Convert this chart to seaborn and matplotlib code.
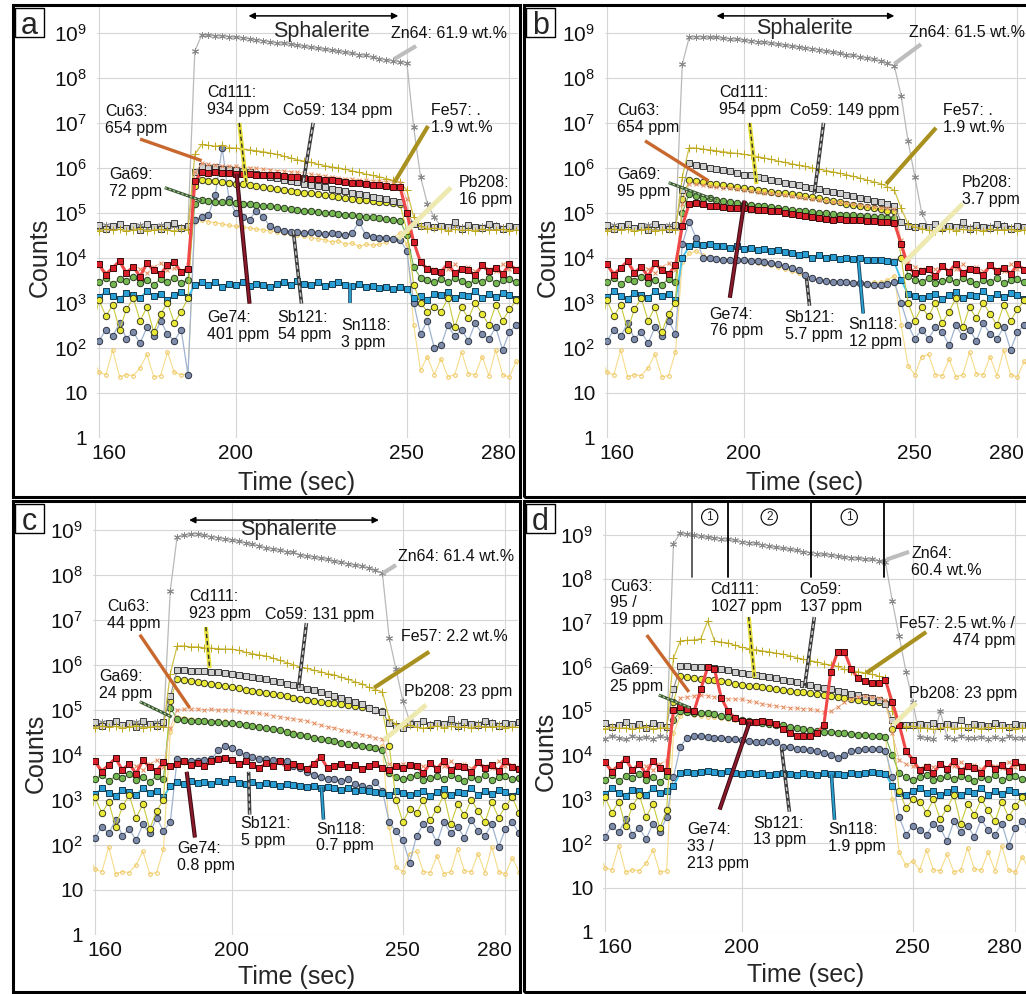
import numpy as np
import seaborn as sns
import matplotlib.pyplot as plt
from matplotlib.patches import Rectangle
from matplotlib.ticker import NullLocator
from matplotlib.transforms import ScaledTranslation

# time axis: one reading every 2 s (158 ... 284 s)
t = np.arange(158, 286, 2)

# ---- background (gas blank) levels, log10(counts) ----
zn_bg = [4.70, 4.66, 4.72, 4.68, 4.71, 4.65, 4.70, 4.73, 4.67, 4.69, 4.72, 4.66, 4.70, 4.68, 4.71, 4.67,
         4.70, 4.72, 4.68, 4.66, 4.71, 4.69, 4.73, 4.67, 4.70, 4.68, 4.72, 4.66, 4.70, 4.69, 4.71, 4.67,
         4.68, 4.72, 4.70, 4.66, 4.69, 4.71, 4.68, 4.73, 4.67, 4.70, 4.72, 4.68, 4.66, 4.71, 4.69, 4.70,
         4.67, 4.72, 4.68, 4.70, 4.66, 4.71, 4.69, 4.73, 4.68, 4.70, 4.67, 4.72, 4.69, 4.70, 4.68, 4.71]
zn_bg_d = [4.42, 4.38, 4.45, 4.40, 4.36, 4.43, 4.39, 4.41, 4.37, 4.44, 4.40, 4.38, 4.42, 4.36, 4.41, 4.39,
           4.43, 4.40, 4.37, 4.42, 4.38, 4.41, 4.44, 4.39, 4.36, 4.42, 4.40, 4.38, 4.43, 4.41, 4.37, 4.40,
           4.42, 4.39, 4.36, 4.41, 4.43, 4.38, 4.40, 4.42, 4.37, 4.41, 4.39, 4.44, 4.38, 4.40, 4.36, 4.42,
           4.40, 4.38, 5.00, 4.41, 4.37, 4.43, 4.39, 4.40, 4.42, 4.38, 4.41, 4.37, 4.43, 4.40, 4.39, 4.42]
fe_bg = [4.62, 4.60, 4.64, 4.61, 4.63, 4.59, 4.62, 4.65, 4.60, 4.62, 4.63, 4.61, 4.60, 4.64, 4.62, 4.59,
         4.63, 4.61, 4.60, 4.64, 4.62, 4.60, 4.63, 4.61, 4.59, 4.62, 4.64, 4.60, 4.62, 4.61, 4.63, 4.60,
         4.61, 4.63, 4.60, 4.62, 4.64, 4.61, 4.59, 4.62, 4.63, 4.60, 4.62, 4.61, 4.64, 4.60, 4.62, 4.63,
         4.61, 4.59, 4.62, 4.64, 4.60, 4.63, 4.61, 4.62, 4.60, 4.64, 4.61, 4.62, 4.63, 4.60, 4.62, 4.61]
cu_bg = [3.72, 3.85, 3.68, 3.78, 3.90, 3.70, 3.82, 3.75, 3.66, 3.80, 3.88, 3.72, 3.77, 3.69, 3.83, 3.74,
         3.79, 3.71, 3.86, 3.68, 3.76, 3.82, 3.70, 3.78, 3.73, 3.87, 3.69, 3.80, 3.75, 3.71, 3.84, 3.77,
         3.70, 3.81, 3.74, 3.68, 3.79, 3.86, 3.72, 3.77, 3.70, 3.83, 3.75, 3.69, 3.80, 3.73, 3.88, 3.71,
         3.78, 3.74, 3.82, 3.69, 3.76, 3.85, 3.72, 3.79, 3.70, 3.83, 3.75, 3.71, 3.86, 3.74, 3.78, 3.72]
co_bg = [4.68, 4.73, 4.64, 4.70, 4.75, 4.66, 4.71, 4.62, 4.74, 4.69, 4.65, 4.72, 4.78, 4.67, 4.70, 4.63,
         4.71, 4.66, 4.74, 4.69, 4.64, 4.72, 4.68, 4.76, 4.65, 4.70, 4.73, 4.67, 4.62, 4.71, 4.69, 4.75,
         4.66, 4.72, 4.68, 4.64, 4.74, 4.70, 4.67, 4.73, 4.65, 4.71, 4.68, 4.77, 4.66, 4.70, 4.63, 4.72,
         4.69, 4.74, 4.66, 4.71, 4.68, 4.80, 4.65, 4.72, 4.69, 4.67, 4.74, 4.70, 4.64, 4.71, 4.68, 4.73]
cd_bg = [2.45, 3.05, 2.70, 2.95, 2.40, 2.85, 3.10, 2.60, 2.90, 2.35, 2.75, 3.00, 2.55, 2.80, 3.10, 2.50,
         2.95, 2.65, 2.40, 3.05, 2.75, 2.55, 2.90, 3.15, 2.60, 2.85, 2.45, 2.95, 2.70, 3.05, 2.50, 2.80,
         2.65, 3.00, 2.40, 2.85, 2.95, 2.55, 3.10, 2.70, 2.45, 2.90, 2.75, 3.05, 2.60, 2.85, 2.50, 2.95,
         2.70, 3.00, 2.55, 2.80, 3.10, 2.45, 2.90, 2.65, 3.00, 2.75, 2.50, 2.95, 2.60, 2.85, 3.05, 2.70]
ga_bg = [3.50, 3.45, 3.55, 3.42, 3.52, 3.48, 3.58, 3.44, 3.50, 3.40, 3.53, 3.47, 3.56, 3.43, 3.51, 3.46,
         3.54, 3.49, 3.41, 3.52, 3.47, 3.57, 3.44, 3.50, 3.46, 3.53, 3.42, 3.49, 3.55, 3.45, 3.51, 3.48,
         3.43, 3.54, 3.47, 3.50, 3.58, 3.44, 3.52, 3.46, 3.49, 3.55, 3.41, 3.51, 3.47, 3.53, 3.45, 3.50,
         3.56, 3.43, 3.49, 3.52, 3.46, 3.54, 3.48, 3.42, 3.51, 3.47, 3.55, 3.44, 3.50, 3.53, 3.46, 3.49]
ge_bg = [3.70, 3.85, 3.62, 3.78, 3.92, 3.66, 3.80, 3.58, 3.88, 3.72, 3.64, 3.83, 3.90, 3.68, 3.76, 3.60,
         3.86, 3.71, 3.65, 3.82, 3.74, 3.58, 3.79, 3.88, 3.67, 3.75, 3.62, 3.84, 3.70, 3.91, 3.66, 3.78,
         3.60, 3.73, 3.86, 3.64, 3.79, 3.70, 3.57, 3.82, 3.68, 3.75, 3.89, 3.63, 3.77, 3.71, 3.84, 3.66,
         3.74, 3.59, 3.81, 3.69, 3.87, 3.65, 3.76, 3.72, 3.61, 3.83, 3.70, 3.78, 3.64, 3.85, 3.73, 3.68]
sb_bg = [2.30, 2.15, 2.40, 2.25, 2.55, 2.20, 2.35, 2.10, 2.45, 2.25, 2.60, 2.30, 2.15, 2.40, 1.40, 2.50,
         2.20, 2.45, 2.05, 2.35, 2.60, 2.25, 2.40, 2.15, 2.50, 2.30, 2.10, 2.45, 2.20, 2.55, 2.35, 2.05,
         2.40, 2.25, 2.50, 2.15, 2.35, 2.60, 2.20, 2.45, 2.30, 1.90, 2.50, 2.25, 2.40, 2.10, 2.55, 2.30,
         2.20, 2.45, 2.35, 2.05, 2.50, 2.25, 2.40, 2.15, 2.55, 2.30, 2.20, 2.45, 1.95, 2.35, 2.50, 2.25]
sn_bg = [3.20, 3.12, 3.25, 3.15, 3.08, 3.22, 3.18, 3.10, 3.26, 3.14, 3.20, 3.06, 3.17, 3.23, 3.12, 3.19,
         3.15, 3.24, 3.09, 3.18, 3.13, 3.21, 3.07, 3.16, 3.25, 3.11, 3.19, 3.14, 3.22, 3.08, 3.17, 3.20,
         3.12, 3.26, 3.15, 3.09, 3.21, 3.16, 3.13, 3.24, 3.10, 3.18, 3.22, 3.07, 3.15, 3.19, 3.12, 3.25,
         3.14, 3.20, 3.09, 3.17, 3.23, 3.11, 3.18, 3.15, 3.26, 3.10, 3.19, 3.13, 3.21, 3.16, 3.08, 3.20]
pb_bg = [1.80, 1.45, 1.40, 1.95, 1.35, 1.40, 1.38, 1.55, 1.85, 1.35, 1.38, 1.90, 1.45, 1.40, 1.42, 1.95,
         1.55, 1.35, 1.80, 1.42, 1.40, 1.38, 1.90, 1.45, 1.40, 1.35, 1.85, 1.55, 1.40, 1.42, 1.38, 1.95,
         1.40, 1.38, 1.85, 1.35, 1.40, 1.45, 1.90, 1.42, 1.40, 1.80, 1.38, 1.35, 1.40, 1.95, 1.45, 1.40,
         1.85, 1.40, 1.38, 1.75, 1.35, 1.40, 1.90, 1.42, 1.40, 1.80, 1.38, 1.95, 1.40, 1.35, 1.70, 1.40]

# ---- sphalerite signal, log10(counts), 2 s steps from the first ablation reading ----
# panel a: 188 ... 258 s
zn_a = [8.6, 8.95, 8.95, 8.94, 8.93, 8.92, 8.9, 8.89, 8.87, 8.85, 8.83, 8.8, 8.78, 8.77, 8.75, 8.73, 8.7, 8.68,
        8.66, 8.64, 8.62, 8.6, 8.57, 8.55, 8.52, 8.5, 8.46, 8.43, 8.4, 8.38, 8.36, 8.34, 6.9, 5.8, 5.2, 4.9]
fe_a = [6.3, 6.52, 6.5, 6.48, 6.5, 6.45, 6.44, 6.42, 6.4, 6.38, 6.36, 6.33, 6.3, 6.26, 6.22, 6.18, 6.15, 6.12,
        6.08, 6.05, 6.02, 6.0, 5.97, 5.93, 5.9, 5.86, 5.83, 5.8, 5.76, 5.72, 5.68, 5.5, 4.9, 4.7, 4.65, 4.66]
cu_a = [5.9, 6.1, 6.08, 6.06, 6.05, 6.04, 6.03, 6.01, 6.0, 5.99, 5.97, 5.96, 5.94, 5.93, 5.91, 5.9, 5.88, 5.86,
        5.84, 5.82, 5.8, 5.78, 5.76, 5.75, 5.73, 5.72, 5.71, 5.7, 5.69, 5.68, 5.67, 5.3, 4.3, 3.9, 3.8, 3.75]
co_a = [5.9, 6.05, 6.0, 6.02, 5.98, 5.97, 5.95, 5.92, 5.9, 5.87, 5.83, 5.8, 5.78, 5.74, 5.7, 5.68, 5.65, 5.62,
        5.6, 5.57, 5.53, 5.5, 5.48, 5.45, 5.42, 5.4, 5.36, 5.33, 5.3, 5.27, 5.25, 5.0, 4.75, 4.7, 4.72, 4.68]
cd_a = [5.6, 5.72, 5.71, 5.7, 5.68, 5.67, 5.65, 5.63, 5.61, 5.59, 5.57, 5.55, 5.53, 5.51, 5.49, 5.47, 5.45, 5.43,
        5.41, 5.39, 5.37, 5.35, 5.33, 5.31, 5.29, 5.28, 5.27, 5.25, 5.23, 5.22, 5.2, 4.6, 3.4, 3.0, 2.8, 2.9]
ga_a = [5.2, 5.28, 5.27, 5.25, 5.24, 5.23, 5.22, 5.2, 5.19, 5.17, 5.16, 5.15, 5.13, 5.11, 5.09, 5.07, 5.05, 5.04,
        5.02, 5.0, 4.99, 4.97, 4.96, 4.94, 4.93, 4.91, 4.9, 4.88, 4.86, 4.84, 4.82, 4.5, 3.8, 3.55, 3.5, 3.45]
ge_a = [5.7, 5.9, 5.89, 5.9, 5.88, 5.88, 5.87, 5.87, 5.86, 5.85, 5.85, 5.84, 5.83, 5.81, 5.8, 5.79, 5.78, 5.76,
        5.75, 5.73, 5.72, 5.7, 5.69, 5.67, 5.66, 5.64, 5.62, 5.61, 5.59, 5.58, 5.57, 5.0, 4.35, 3.9, 3.75, 3.7]
sb_a = [4.85, 4.9, 4.95, 5.4, 6.45, 5.3, 5.0, 4.9, 4.85, 5.05, 4.9, 4.7, 4.65, 4.6, 4.58, 4.57, 4.55, 4.57,
        4.55, 4.52, 4.55, 4.53, 4.5, 4.55, 4.8, 4.5, 4.47, 4.45, 4.45, 4.42, 4.4, 4.15, 3.0, 2.3, 2.6, 2.0]
sn_a = [3.4, 3.45, 3.4, 3.45, 3.35, 3.42, 3.4, 3.45, 3.38, 3.42, 3.4, 3.35, 3.42, 3.45, 3.4, 3.48, 3.42, 3.4,
        3.45, 3.38, 3.42, 3.45, 3.4, 3.38, 3.42, 3.35, 3.38, 3.32, 3.35, 3.3, 3.35, 3.3, 3.1, 3.15, 3.05, 3.2]
pb_a = [4.8, 4.85, 4.8, 4.78, 4.75, 4.72, 4.7, 4.68, 4.66, 4.64, 4.62, 4.6, 4.57, 4.55, 4.52, 4.5, 4.48, 4.45,
        4.42, 4.4, 4.35, 4.38, 4.3, 4.33, 4.25, 4.3, 4.28, 4.3, 4.35, 4.45, 4.55, 4.3, 2.5, 1.5, 1.8, 1.4]

# panel b: 182 ... 252 s
zn_b = [8.3, 8.9, 8.92, 8.91, 8.9, 8.9, 8.88, 8.87, 8.86, 8.84, 8.83, 8.81, 8.79, 8.77, 8.75, 8.73, 8.71, 8.69,
        8.67, 8.65, 8.63, 8.6, 8.58, 8.55, 8.52, 8.5, 8.47, 8.44, 8.41, 8.38, 8.33, 8.27, 7.6, 6.6, 5.8, 5.0]
fe_b = [5.8, 6.45, 6.44, 6.42, 6.4, 6.38, 6.36, 6.34, 6.32, 6.3, 6.28, 6.25, 6.22, 6.19, 6.15, 6.12, 6.09, 6.06,
        6.03, 6.0, 5.97, 5.94, 5.91, 5.88, 5.85, 5.81, 5.77, 5.73, 5.69, 5.65, 5.58, 5.5, 5.1, 4.75, 4.68, 4.65]
cu_b = [5.2, 5.65, 5.63, 5.61, 5.6, 5.58, 5.56, 5.55, 5.53, 5.51, 5.49, 5.47, 5.45, 5.43, 5.41, 5.39, 5.37, 5.35,
        5.33, 5.31, 5.29, 5.27, 5.25, 5.23, 5.21, 5.19, 5.17, 5.15, 5.13, 5.11, 5.1, 5.08, 4.4, 3.9, 3.8, 3.75]
co_b = [5.5, 6.1, 6.07, 6.03, 6.0, 5.97, 5.95, 5.92, 5.88, 5.85, 5.83, 5.8, 5.77, 5.73, 5.7, 5.67, 5.64, 5.61,
        5.58, 5.55, 5.52, 5.49, 5.46, 5.43, 5.4, 5.37, 5.33, 5.3, 5.27, 5.24, 5.2, 5.15, 4.8, 4.7, 4.68, 4.7]
cd_b = [5.3, 5.72, 5.7, 5.68, 5.65, 5.63, 5.61, 5.59, 5.57, 5.55, 5.53, 5.51, 5.49, 5.47, 5.45, 5.43, 5.41, 5.39,
        5.37, 5.35, 5.32, 5.29, 5.26, 5.23, 5.2, 5.18, 5.15, 5.13, 5.1, 5.08, 5.05, 5.03, 4.0, 3.0, 2.6, 2.9]
ga_b = [5.0, 5.42, 5.38, 5.34, 5.32, 5.29, 5.27, 5.24, 5.22, 5.2, 5.18, 5.16, 5.14, 5.12, 5.1, 5.08, 5.06, 5.04,
        5.03, 5.02, 5.0, 4.99, 4.97, 4.96, 4.95, 4.94, 4.93, 4.92, 4.91, 4.9, 4.89, 4.88, 4.3, 3.6, 3.5, 3.45]
ge_b = [4.7, 5.2, 5.22, 5.2, 5.15, 5.14, 5.12, 5.1, 5.11, 5.1, 5.08, 5.07, 5.06, 5.05, 5.05, 5.0, 4.98, 4.95,
        4.92, 4.9, 4.88, 4.87, 4.85, 4.87, 4.85, 4.83, 4.84, 4.82, 4.81, 4.8, 4.79, 4.78, 4.3, 3.8, 3.65, 3.7]
sb_b = [4.3, 4.8, 4.45, 4.0, 4.0, 3.98, 3.96, 3.95, 3.96, 3.95, 3.93, 3.92, 3.9, 3.88, 3.85, 3.82, 3.78, 3.72,
        3.62, 3.55, 3.5, 3.48, 3.45, 3.47, 3.45, 3.43, 3.44, 3.42, 3.4, 3.4, 3.42, 3.45, 3.0, 2.5, 2.2, 2.4]
sn_b = [4.0, 4.25, 4.3, 4.28, 4.3, 4.25, 4.27, 4.22, 4.25, 4.2, 4.22, 4.18, 4.2, 4.15, 4.17, 4.12, 4.1, 4.05,
        4.08, 4.0, 4.05, 4.0, 4.02, 3.98, 4.0, 3.97, 3.99, 3.95, 3.96, 3.95, 3.92, 3.9, 3.5, 3.2, 3.15, 3.1]
pb_b = [3.9, 4.1, 4.15, 4.05, 4.0, 3.98, 3.97, 3.95, 3.95, 3.93, 3.9, 3.88, 3.85, 3.83, 3.8, 3.75, 3.7, 3.65,
        3.6, 3.55, 3.52, 3.5, 3.48, 3.47, 3.46, 3.45, 3.45, 3.44, 3.45, 3.45, 3.5, 3.6, 2.5, 1.6, 1.4, 1.8]

# panel c: 182 ... 252 s
zn_c = [7.65, 8.85, 8.88, 8.9, 8.92, 8.88, 8.85, 8.83, 8.8, 8.78, 8.75, 8.72, 8.68, 8.65, 8.6, 8.58, 8.55, 8.52,
        8.5, 8.45, 8.42, 8.4, 8.37, 8.35, 8.3, 8.28, 8.25, 8.22, 8.2, 8.15, 8.1, 8.05, 6.6, 5.9, 5.2, 4.75]
fe_c = [5.8, 6.42, 6.42, 6.4, 6.4, 6.38, 6.37, 6.36, 6.35, 6.35, 6.32, 6.28, 6.25, 6.22, 6.2, 6.15, 6.1, 6.05,
        6.0, 5.95, 5.92, 5.88, 5.85, 5.8, 5.78, 5.72, 5.68, 5.62, 5.58, 5.5, 5.45, 5.4, 4.8, 4.68, 4.65, 4.66]
cu_c = [4.6, 5.0, 5.01, 5.02, 5.02, 5.0, 5.01, 5.0, 5.0, 5.0, 4.98, 4.96, 4.94, 4.92, 4.9, 4.87, 4.85, 4.82,
        4.8, 4.78, 4.75, 4.7, 4.66, 4.62, 4.6, 4.56, 4.52, 4.48, 4.45, 4.42, 4.38, 4.35, 3.8, 3.75, 3.8, 3.72]
co_c = [5.3, 5.88, 5.88, 5.87, 5.87, 5.86, 5.85, 5.83, 5.82, 5.8, 5.78, 5.75, 5.72, 5.7, 5.68, 5.65, 5.62, 5.58,
        5.55, 5.5, 5.47, 5.43, 5.4, 5.36, 5.3, 5.27, 5.22, 5.18, 5.12, 5.05, 5.0, 4.95, 4.7, 4.65, 4.6, 4.68]
cd_c = [5.2, 5.68, 5.67, 5.65, 5.62, 5.6, 5.58, 5.56, 5.53, 5.5, 5.48, 5.45, 5.42, 5.4, 5.38, 5.35, 5.32, 5.3,
        5.27, 5.25, 5.22, 5.2, 5.18, 5.16, 5.15, 5.12, 5.1, 5.08, 5.06, 5.03, 5.0, 4.98, 4.2, 3.0, 2.5, 2.8]
ga_c = [5.04, 4.8, 4.78, 4.76, 4.75, 4.74, 4.73, 4.72, 4.71, 4.7, 4.68, 4.66, 4.64, 4.62, 4.6, 4.57, 4.54, 4.5,
        4.47, 4.45, 4.42, 4.38, 4.35, 4.32, 4.3, 4.27, 4.24, 4.22, 4.2, 4.18, 4.15, 4.1, 3.6, 3.5, 3.45, 3.5]
ge_c = [3.75, 3.8, 3.85, 3.78, 3.82, 3.75, 3.85, 3.9, 3.93, 3.88, 3.8, 3.85, 3.78, 3.7, 3.82, 3.75, 3.85, 3.72,
        3.8, 3.75, 3.68, 3.8, 3.95, 3.7, 3.75, 3.8, 3.72, 3.78, 3.68, 3.75, 3.8, 3.7, 3.65, 3.75, 3.7, 3.78]
sb_c = [2.5, 3.9, 3.85, 3.85, 3.85, 3.88, 3.9, 4.1, 4.2, 4.15, 4.05, 4.0, 3.95, 3.9, 3.9, 3.88, 3.85, 3.85,
        3.75, 3.7, 3.62, 3.55, 3.5, 3.45, 3.45, 3.42, 3.45, 3.35, 3.3, 3.25, 3.4, 3.2, 2.5, 2.3, 2.1, 1.6]
sn_c = [3.3, 3.4, 3.35, 3.42, 3.38, 3.4, 3.35, 3.42, 3.4, 3.45, 3.38, 3.35, 3.4, 3.33, 3.38, 3.35, 3.3, 3.35,
        3.32, 3.3, 3.28, 3.3, 3.25, 3.28, 3.25, 3.22, 3.25, 3.2, 3.22, 3.2, 3.18, 3.15, 3.1, 3.2, 3.15, 3.1]
pb_c = [4.5, 4.85, 4.82, 4.8, 4.78, 4.77, 4.76, 4.75, 4.74, 4.72, 4.7, 4.68, 4.66, 4.64, 4.62, 4.59, 4.56, 4.53,
        4.5, 4.47, 4.44, 4.4, 4.37, 4.34, 4.3, 4.28, 4.25, 4.22, 4.2, 4.18, 4.15, 4.2, 2.4, 1.5, 1.4, 1.8]

# panel d: 180 ... 250 s
zn_d = [8.8, 9.05, 9.02, 9.0, 8.98, 8.95, 8.94, 8.92, 8.9, 8.88, 8.85, 8.83, 8.81, 8.78, 8.76, 8.72, 8.7, 8.68,
        8.65, 8.62, 8.6, 8.58, 8.56, 8.55, 8.53, 8.5, 8.49, 8.47, 8.46, 8.45, 8.42, 8.38, 7.5, 6.7, 5.9, 5.2]
fe_d = [6.2, 6.6, 6.61, 6.62, 6.65, 7.05, 6.6, 6.57, 6.55, 6.5, 6.45, 6.42, 6.4, 6.37, 6.35, 6.32, 6.3, 6.26,
        6.22, 6.18, 6.15, 6.12, 6.08, 6.05, 6.02, 5.95, 5.92, 5.9, 5.87, 5.84, 5.8, 5.75, 5.0, 4.7, 4.65, 4.66]
cu_d = [4.8, 5.3, 5.33, 5.35, 5.37, 5.35, 5.33, 5.3, 5.28, 5.28, 5.27, 5.24, 5.2, 5.17, 5.14, 5.12, 5.1, 5.08,
        5.07, 5.06, 5.05, 5.02, 4.98, 5.0, 5.1, 5.2, 5.28, 5.33, 5.35, 5.32, 5.3, 5.25, 4.5, 3.9, 3.8, 3.75]
co_d = [5.5, 6.02, 6.02, 6.01, 6.0, 6.0, 5.98, 5.96, 5.93, 5.9, 5.88, 5.85, 5.82, 5.8, 5.77, 5.75, 5.72, 5.69,
        5.66, 5.63, 5.6, 5.56, 5.53, 5.5, 5.47, 5.43, 5.4, 5.37, 5.33, 5.3, 5.25, 5.17, 4.8, 4.7, 4.68, 4.7]
cd_d = [5.2, 5.8, 5.78, 5.76, 5.74, 5.72, 5.7, 5.68, 5.66, 5.63, 5.6, 5.58, 5.57, 5.55, 5.52, 5.5, 5.48, 5.46,
        5.44, 5.43, 5.42, 5.4, 5.38, 5.35, 5.32, 5.3, 5.28, 5.26, 5.24, 5.22, 5.2, 5.18, 4.6, 3.2, 2.8, 3.0]
ga_d = [4.8, 5.0, 4.99, 4.97, 4.96, 4.95, 4.93, 4.9, 4.87, 4.84, 4.8, 4.78, 4.76, 4.74, 4.72, 4.7, 4.68, 4.65,
        4.62, 4.6, 4.58, 4.56, 4.54, 4.52, 4.5, 4.5, 4.48, 4.47, 4.46, 4.45, 4.45, 4.42, 4.0, 3.6, 3.5, 3.45]
ge_d = [5.03, 5.1, 5.05, 5.0, 5.5, 6.0, 5.95, 5.3, 5.0, 4.85, 4.78, 4.76, 4.76, 4.78, 4.75, 4.72, 4.6, 4.5,
        4.45, 4.43, 4.45, 4.5, 4.7, 5.9, 6.35, 6.35, 5.95, 5.75, 5.68, 5.65, 5.65, 5.7, 5.2, 4.7, 4.1, 3.9]
sb_d = [3.5, 4.2, 4.4, 4.45, 4.43, 4.42, 4.4, 4.4, 4.38, 4.36, 4.35, 4.32, 4.3, 4.3, 4.32, 4.3, 4.2, 4.18,
        4.15, 4.14, 4.12, 4.1, 4.05, 4.0, 3.95, 4.0, 4.1, 4.12, 4.15, 4.15, 4.15, 4.1, 3.5, 2.6, 2.2, 2.4]
sn_d = [3.3, 3.6, 3.62, 3.6, 3.63, 3.65, 3.62, 3.6, 3.64, 3.6, 3.58, 3.6, 3.57, 3.6, 3.55, 3.58, 3.6, 3.57,
        3.55, 3.6, 3.58, 3.55, 3.6, 3.57, 3.58, 3.55, 3.6, 3.58, 3.6, 3.62, 3.6, 3.58, 3.3, 3.15, 3.1, 3.2]
pb_d = [4.5, 4.9, 4.95, 4.92, 4.9, 4.88, 4.86, 4.84, 4.82, 4.8, 4.78, 4.76, 4.74, 4.72, 4.7, 4.68, 4.66, 4.64,
        4.62, 4.6, 4.58, 4.56, 4.55, 4.53, 4.52, 4.5, 4.5, 4.48, 4.47, 4.45, 4.45, 4.4, 3.0, 1.8, 1.5, 1.6]

# concentration labels per panel
labels_a = {'Zn64': 'Zn64: 61.9 wt.%', 'Cu63': 'Cu63:\n654 ppm', 'Cd111': 'Cd111:\n934 ppm',
            'Co59': 'Co59: 134 ppm', 'Fe57': 'Fe57: .\n1.9 wt.%', 'Ga69': 'Ga69:\n72 ppm',
            'Pb208': 'Pb208:\n16 ppm', 'Ge74': 'Ge74:\n401 ppm', 'Sb121': 'Sb121:\n54 ppm', 'Sn118': 'Sn118:\n3 ppm'}
labels_b = {'Zn64': 'Zn64: 61.5 wt.%', 'Cu63': 'Cu63:\n654 ppm', 'Cd111': 'Cd111:\n954 ppm',
            'Co59': 'Co59: 149 ppm', 'Fe57': 'Fe57: .\n1.9 wt.%', 'Ga69': 'Ga69:\n95 ppm',
            'Pb208': 'Pb208:\n3.7 ppm', 'Ge74': 'Ge74:\n76 ppm', 'Sb121': 'Sb121:\n5.7 ppm', 'Sn118': 'Sn118:\n12 ppm'}
labels_c = {'Zn64': 'Zn64: 61.4 wt.%', 'Cu63': 'Cu63:\n44 ppm', 'Cd111': 'Cd111:\n923 ppm',
            'Co59': 'Co59: 131 ppm', 'Fe57': 'Fe57: 2.2 wt.%', 'Ga69': 'Ga69:\n24 ppm',
            'Pb208': 'Pb208: 23 ppm', 'Ge74': 'Ge74:\n0.8 ppm', 'Sb121': 'Sb121:\n5 ppm', 'Sn118': 'Sn118:\n0.7 ppm'}
labels_d = {'Zn64': 'Zn64:\n60.4 wt.%', 'Cu63': 'Cu63:\n95 /\n19 ppm', 'Cd111': 'Cd111:\n1027 ppm',
            'Co59': 'Co59:\n137 ppm', 'Fe57': 'Fe57: 2.5 wt.% /\n474 ppm', 'Ga69': 'Ga69:\n25 ppm',
            'Pb208': 'Pb208: 23 ppm', 'Ge74': 'Ge74:\n33 /\n213 ppm', 'Sb121': 'Sb121:\n13 ppm', 'Sn118': 'Sn118:\n1.9 ppm'}

# label anchor (time, log10 counts) and leader line (t0, y0, t1, y1)
lay_a = {'Zn64': ((245.4, 8.98), (252.7, 8.71, 246.3, 8.42)), 'Cu63': ((161.7, 7.07), (172.0, 6.64, 190.0, 6.16)),
         'Cd111': ((191.5, 7.49), (201.0, 7.0, 203.0, 5.67)), 'Co59': ((213.9, 7.27), (222.6, 7.0, 219.7, 5.67)),
         'Fe57': ((257.0, 7.09), (256.2, 6.93, 246.3, 5.67)), 'Ga69': ((162.9, 5.67), (179.2, 5.56, 190.0, 5.27)),
         'Pb208': ((265.2, 5.49), (262.9, 5.56, 247.5, 4.42)), 'Ge74': ((191.5, 2.49), (204.0, 2.98, 200.2, 5.87)),
         'Sb121': ((212.2, 2.49), (219.2, 2.98, 216.8, 4.6)), 'Sn118': ((230.8, 2.31), (233.5, 3.0, 233.5, 3.44))}
lay_b = {'Zn64': ((248.3, 9.0), (251.8, 8.75, 244.0, 8.31)), 'Cu63': ((162.9, 7.09), (171.1, 6.6, 189.7, 5.71)),
         'Cd111': ((192.7, 7.49), (201.7, 7.0, 203.7, 5.64)), 'Co59': ((213.4, 7.27), (223.3, 7.0, 220.6, 5.42)),
         'Fe57': ((258.2, 7.09), (256.2, 6.89, 241.6, 5.64)), 'Ga69': ((162.9, 5.67), (178.0, 5.67, 192.1, 5.27)),
         'Pb208': ((263.8, 5.49), (264.0, 5.2, 246.6, 3.87)), 'Ge74': ((190.0, 2.56), (195.9, 3.11, 200.2, 5.27)),
         'Sb121': ((211.9, 2.49), (219.2, 2.93, 218.3, 3.56)), 'Sn118': ((230.6, 2.33), (234.9, 2.76, 233.5, 3.93))}
lay_c = {'Zn64': ((248.6, 8.4), (248.0, 8.22, 244.2, 8.04)), 'Cu63': ((163.5, 7.11), (173.1, 6.67, 187.7, 5.04)),
         'Cd111': ((187.4, 7.33), (192.4, 6.84, 193.5, 5.93)), 'Co59': ((209.6, 7.11), (221.8, 6.93, 219.5, 5.49)),
         'Fe57': ((249.5, 6.62), (257.7, 6.29, 241.6, 5.49)), 'Ga69': ((161.2, 5.56), (173.1, 5.18, 182.4, 4.84)),
         'Pb208': ((250.4, 5.4), (256.8, 5.11, 244.5, 4.33)), 'Ge74': ((183.9, 1.73), (189.2, 2.16, 186.8, 3.62)),
         'Sb121': ((202.6, 2.29), (205.2, 2.67, 204.9, 3.62)), 'Sn118': ((224.7, 2.16), (226.8, 2.56, 226.2, 3.27))}
lay_d = {'Zn64': ((249.5, 8.39), (248.9, 8.62, 242.2, 8.44)), 'Cu63': ((161.5, 7.46), (172.2, 6.73, 184.5, 5.44)),
         'Cd111': ((190.9, 7.57), (202.0, 7.14, 203.7, 5.76)), 'Co59': ((216.9, 7.57), (221.2, 7.14, 218.3, 5.53)),
         'Fe57': ((246.0, 6.8), (253.9, 6.8, 236.4, 5.87)), 'Ga69': ((161.5, 5.76), (175.7, 5.37, 184.8, 5.08)),
         'Pb208': ((248.9, 5.4), (251.0, 5.19, 244.3, 4.69)), 'Ge74': ((183.9, 1.93), (193.5, 2.77, 202.3, 4.76)),
         'Sb121': ((203.4, 2.27), (213.9, 2.72, 211.6, 4.17)), 'Sn118': ((225.3, 2.13), (227.1, 2.54, 226.2, 3.56))}

# sub-domains of the zoned grain in panel d (s) and their zone numbers
zone_edges_d = [185.4, 195.9, 220.3, 241.6]
zone_names_d = ['1', '2', '1']
zone_mid_d = [190.6, 208.0, 231.4]

backgrounds = {'Zn64': zn_bg, 'Fe57': fe_bg, 'Cu63': cu_bg, 'Co59': co_bg, 'Cd111': cd_bg,
               'Ga69': ga_bg, 'Ge74': ge_bg, 'Sb121': sb_bg, 'Sn118': sn_bg, 'Pb208': pb_bg}

# draw order and look of each isotope
styles = {
    'Pb208': dict(color='#f7dc8c', marker='o', markersize=2.6, markerfacecolor='none', markeredgecolor='#efc55a', linewidth=0.8),
    'Zn64': dict(color='#b9b9b9', marker=(6, 2, 0), markersize=5, markerfacecolor='#8a8a8a', markeredgecolor='#8a8a8a', linewidth=0.9),
    'Sb121': dict(color='#9fb3d0', marker='o', markersize=4.6, markerfacecolor='#7d8cab', markeredgecolor='#2e3442', linewidth=0.9),
    'Sn118': dict(color='#45c3ea', marker='s', markersize=4.6, markerfacecolor='#2a9fd6', markeredgecolor='#153a4d', linewidth=1.4),
    'Ga69': dict(color='#6fb04a', marker='o', markersize=4.6, markerfacecolor='#76b852', markeredgecolor='#2a3a20', linewidth=0.8),
    'Cd111': dict(color='#c9c93a', marker='o', markersize=4.6, markerfacecolor='#eaea36', markeredgecolor='#3a3a20', linewidth=0.8),
    'Co59': dict(color='#8a8a8a', marker='s', markersize=4.8, markerfacecolor='#cfcfcf', markeredgecolor='#3c3c3c', linewidth=0.8),
    'Fe57': dict(color='#d0c24a', marker='+', markersize=5.5, markerfacecolor='#c0a820', markeredgecolor='#c0a820', linewidth=0.9),
    'Cu63': dict(color='#f2bc9c', marker='x', markersize=3.5, markerfacecolor='#e4895a', markeredgecolor='#e4895a', linewidth=0.6),
    'Ge74': dict(color='#f04848', marker='s', markersize=4.8, markerfacecolor='#d81e28', markeredgecolor='#3a0a0a', linewidth=2.2),
}
leader_styles = {
    'Zn64': [dict(color='#bdbdbd', lw=3.0)],
    'Cu63': [dict(color='#c8682e', lw=2.4)],
    'Cd111': [dict(color='#e6df3a', lw=3.0), dict(color='#2a2a2a', lw=1.0, ls=(0, (3, 2)))],
    'Co59': [dict(color='#3a3a3a', lw=2.6), dict(color='#d8d8d8', lw=1.0, ls=(0, (3, 2)))],
    'Fe57': [dict(color='#a99120', lw=3.0)],
    'Ga69': [dict(color='#3d5a35', lw=2.2), dict(color='#b8d8a8', lw=0.8, ls=(0, (2, 2)))],
    'Pb208': [dict(color='#ede9b0', lw=3.5)],
    'Ge74': [dict(color='#3a0a14', lw=3.0), dict(color='#8a1a2a', lw=1.6)],
    'Sb121': [dict(color='#3a3a3a', lw=2.6), dict(color='#c8c8c8', lw=1.0, ls=(0, (3, 2)))],
    'Sn118': [dict(color='#18405a', lw=2.6), dict(color='#2a9fd0', lw=1.4)],
}

panels = [
    dict(tag='a', box=(97, 7, 518, 438), dec=45.0, t0=188, labels=labels_a, lay=lay_a, frame=(13, 5, 520, 497),
         seg={'Zn64': zn_a, 'Fe57': fe_a, 'Cu63': cu_a, 'Co59': co_a, 'Cd111': cd_a, 'Ga69': ga_a,
              'Ge74': ge_a, 'Sb121': sb_a, 'Sn118': sn_a, 'Pb208': pb_a},
         sph=(203.7, 247.5, 9.38, 225.0, 9.04), xlab=(0.475, -0.105)),
    dict(tag='b', box=(605, 7, 1026, 438), dec=45.0, t0=182, labels=labels_b, lay=lay_b, frame=(524, 5, 1032, 497),
         seg={'Zn64': zn_b, 'Fe57': fe_b, 'Cu63': cu_b, 'Co59': co_b, 'Cd111': cd_b, 'Ga69': ga_b,
              'Ge74': ge_b, 'Sb121': sb_b, 'Sn118': sn_b, 'Pb208': pb_b},
         sph=(192.0, 244.0, 9.38, 217.7, 9.09), xlab=(0.475, -0.105)),
    dict(tag='c', box=(93, 503, 518, 935), dec=45.0, t0=182, labels=labels_c, lay=lay_c, frame=(13, 501, 520, 992),
         seg={'Zn64': zn_c, 'Fe57': fe_c, 'Cu63': cu_c, 'Co59': co_c, 'Cd111': cd_c, 'Ga69': ga_c,
              'Ge74': ge_c, 'Sb121': sb_c, 'Sn118': sn_c, 'Pb208': pb_c},
         sph=(187.5, 243.0, 9.22, 216.5, 9.0), xlab=(0.48, -0.098)),
    dict(tag='d', box=(603, 503, 1026, 932), dec=44.1, t0=180, labels=labels_d, lay=lay_d, frame=(524, 501, 1032, 992),
         seg={'Zn64': zn_d, 'Fe57': fe_d, 'Cu63': cu_d, 'Co59': co_d, 'Cd111': cd_d, 'Ga69': ga_d,
              'Ge74': ge_d, 'Sb121': sb_d, 'Sn118': sn_d, 'Pb208': pb_d},
         sph=None, xlab=(0.48, -0.1), bg_override={'Zn64': zn_bg_d}),
]

sns.set_theme(style='white')
plt.rcParams['font.family'] = ['Liberation Sans', 'DejaVu Sans']
plt.rcParams['mathtext.default'] = 'regular'

W, H = 1026, 994
fig = plt.figure(figsize=(W / 100, H / 100), dpi=100)
fig.patch.set_facecolor('white')

# soft white-to-grey shading of the plot area
shade = np.linspace(0, 1, 256)
shade = 1 - 0.1 * np.clip((shade - 0.25) / 0.75, 0, 1) ** 1.3
shade_img = np.dstack([shade, shade, shade])[:, :1, :]


def axes_rect(x0, y0, x1, y1):
    return [x0 / W, 1 - y1 / H, (x1 - x0) / W, (y1 - y0) / H]


for p in panels:
    x0, y0, x1, y1 = p['box']
    rect = axes_rect(x0, y0, x1, y1)
    bg_ax = fig.add_axes(rect, zorder=0)
    bg_ax.imshow(shade_img, aspect='auto', extent=(0, 1, 0, 1))
    bg_ax.axis('off')

    ax = fig.add_axes(rect, zorder=1)
    ax.set_facecolor('none')
    ax.set_yscale('log')

    override = p.get('bg_override', {})
    i0 = int((p['t0'] - t[0]) // 2)
    for name, st in styles.items():
        vals = np.array(override.get(name, backgrounds[name]), dtype=float)
        seg = p['seg'][name]
        vals[i0:i0 + len(seg)] = seg
        sns.lineplot(x=t, y=10 ** vals, ax=ax, estimator=None, legend=False,
                     markeredgewidth=0.7, zorder=3, **st)

    # leader lines and concentration labels
    for name, ((tx, ty), (la, lb, lc, ld)) in p['lay'].items():
        for ls in leader_styles[name]:
            ax.plot([la, lc], [10 ** lb, 10 ** ld], solid_capstyle='butt', zorder=5, **ls)
        ax.text(tx, 10 ** ty, p['labels'][name], fontsize=11.5, ha='left', va='center',
                multialignment='right' if name == 'Fe57' and p['tag'] == 'd' else 'left',
                linespacing=1.15, color='#111111', zorder=6)

    if p['sph'] is not None:
        sa, sb, sy, sx, st_y = p['sph']
        ax.annotate('', xy=(sb, 10 ** sy), xytext=(sa, 10 ** sy),
                    arrowprops=dict(arrowstyle='<|-|>', color='black', lw=1.1,
                                    mutation_scale=9, shrinkA=0, shrinkB=0), zorder=6)
        ax.text(sx, 10 ** st_y, 'Sphalerite', fontsize=15.5, ha='center', va='center', zorder=6)
    else:
        top = (y1 - y0) / p['dec']
        for k, xe in enumerate(zone_edges_d):
            ax.plot([xe, xe], [10 ** 8.05, 10 ** top], color='#555555' if k == 0 else 'black',
                    lw=1.3, zorder=6)
        for xm, zn in zip(zone_mid_d, zone_names_d):
            ax.text(xm, 10 ** 9.41, zn, fontsize=8.5, ha='center', va='center', zorder=7,
                    bbox=dict(boxstyle='circle,pad=0.18', fc='white', ec='black', lw=0.8))

    width_px = x1 - x0
    ax.set_xlim(159.4, 159.4 + width_px / 3.42)
    ax.set_ylim(10 ** -0.01, 10 ** ((y1 - y0) / p['dec']))
    ax.set_xticks([160, 200, 250, 280])
    ax.set_xticklabels(['160', '200', '250', '280'])
    ax.set_yticks([10.0 ** k for k in range(10)])
    ax.set_yticklabels(['1', '10'] + ['$10^{%d}$' % k for k in range(2, 10)])
    ax.yaxis.set_minor_locator(NullLocator())
    ax.tick_params(axis='both', length=0, labelsize=15, colors='#111111')
    ax.tick_params(axis='x', pad=4)
    ax.tick_params(axis='y', pad=7)
    xl = ax.get_xticklabels()
    xl[0].set_transform(xl[0].get_transform() + ScaledTranslation(0.10, 0, fig.dpi_scale_trans))
    xl[-1].set_transform(xl[-1].get_transform() + ScaledTranslation(-0.11, 0, fig.dpi_scale_trans))
    ax.grid(True, color='#d6d6d6', lw=0.8)
    ax.set_axisbelow(True)
    for s in ax.spines.values():
        s.set_visible(False)

    ax.set_xlabel('Time (sec)', fontsize=18, va='center')
    ax.xaxis.set_label_coords(*p['xlab'])
    ax.set_ylabel('Counts', fontsize=18, va='center')
    ax.yaxis.set_label_coords(-0.135, 0.42)

    # panel frame and letter box
    fx0, fy0, fx1, fy1 = p['frame']
    fig.add_artist(Rectangle((fx0 / W, 1 - fy1 / H), (fx1 - fx0) / W, (fy1 - fy0) / H,
                             transform=fig.transFigure, fill=False, ec='black', lw=2.2, zorder=20))
    bx, by = fx0 + 2, fy0 + 3
    fig.add_artist(Rectangle((bx / W, 1 - (by + 29) / H), 29 / W, 29 / H, transform=fig.transFigure,
                             fc='white', ec='black', lw=1.0, zorder=21))
    fig.text((bx + 14.5) / W, 1 - (by + 15) / H, p['tag'], fontsize=22, ha='center',
             va='center_baseline', zorder=22)

fig.savefig('out.png', dpi=100, facecolor='white')
